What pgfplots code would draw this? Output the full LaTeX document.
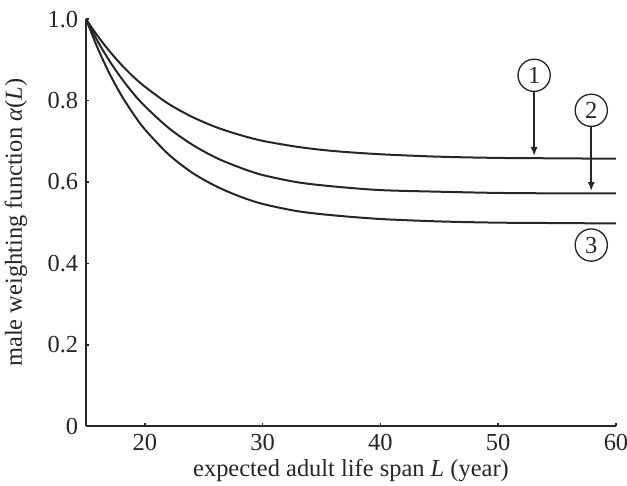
\documentclass[border=0pt]{standalone}
\usepackage{fontspec}
\setmainfont{Liberation Serif}
\usepackage{pgfplots}
\pgfplotsset{compat=1.18}
\usetikzlibrary{arrows.meta,calc}

\definecolor{ink}{HTML}{262626}

\begin{document}
\begin{tikzpicture}
\begin{axis}[
    name=ax,
    scale only axis,
    width=238.5pt, height=183.2pt,
    xmin=15, xmax=60,
    ymin=0, ymax=1,
    axis lines*=left,
    axis line style={ink, line width=0.8pt},
    tick align=inside,
    major tick length=1.5pt,
    tick style={ink, line width=0.7pt},
    xtick={20,30,40,50,60},
    ytick={0,0.2,0.4,0.6,0.8,1.0},
    yticklabels={0,0.2,0.4,0.6,0.8,1.0},
    /pgf/number format/assume math mode=true,
    ticklabel style={font=\fontsize{11}{13}\selectfont, text=ink},
    xlabel={expected adult life span \textit{L} (year)},
    ylabel={male weighting function \textit{α}(\textit{L})},
    label style={font=\fontsize{11}{13}\selectfont, text=ink},
    xlabel style={at={(axis description cs:0.5,0)}, anchor=north, yshift=-11.5pt},
    ylabel style={at={(axis description cs:-0.096,0.5)}, anchor=south},
    clip=false,
]

% curve 1
\addplot[ink, line width=0.9pt, smooth] coordinates {
    (15,1.0) (16,0.958) (17,0.921) (18,0.888) (19,0.859) (20,0.834)
    (22,0.792) (24,0.760) (26,0.735) (28,0.716) (30,0.701) (33,0.686)
    (36,0.676) (40,0.668) (45,0.662) (50,0.659) (55,0.658) (60,0.657)
};

% curve 2
\addplot[ink, line width=0.9pt, smooth] coordinates {
    (15,1.0) (16,0.945) (17,0.897) (18,0.855) (19,0.818) (20,0.786)
    (22,0.733) (24,0.692) (26,0.660) (28,0.636) (30,0.617) (33,0.599)
    (36,0.589) (40,0.580) (45,0.576) (50,0.573) (55,0.572) (60,0.572)
};

% curve 3
\addplot[ink, line width=0.9pt, smooth] coordinates {
    (15,1.0) (16,0.928) (17,0.866) (18,0.813) (19,0.768) (20,0.729)
    (22,0.668) (24,0.623) (26,0.590) (28,0.565) (30,0.546) (33,0.528)
    (36,0.518) (40,0.509) (45,0.503) (50,0.500) (55,0.499) (60,0.498)
};

% circled labels
\tikzset{lab/.style={circle, draw=ink, line width=0.6pt, minimum size=14.5pt,
    inner sep=0pt, font=\fontsize{11}{13}\selectfont, text=ink}}
\node[lab] (c1) at (axis cs:53.05,0.862) {1};
\node[lab] (c2) at (axis cs:57.9,0.776) {2};
\node[lab] (c3) at (axis cs:57.9,0.445) {3};

\draw[ink, line width=0.7pt, -{Latex[length=4pt,width=3.2pt]}]
    (c1.south) -- (axis cs:53.05,0.664);
\draw[ink, line width=0.7pt, -{Latex[length=4pt,width=3.2pt]}]
    (c2.south) -- (axis cs:57.9,0.578);
\end{axis}
\pgfresetboundingbox
\path ($(ax.south west)+(-38.7pt,-26.6pt)$) rectangle ($(ax.north east)+(4.95pt,8.6pt)$);
\end{tikzpicture}
\end{document}
